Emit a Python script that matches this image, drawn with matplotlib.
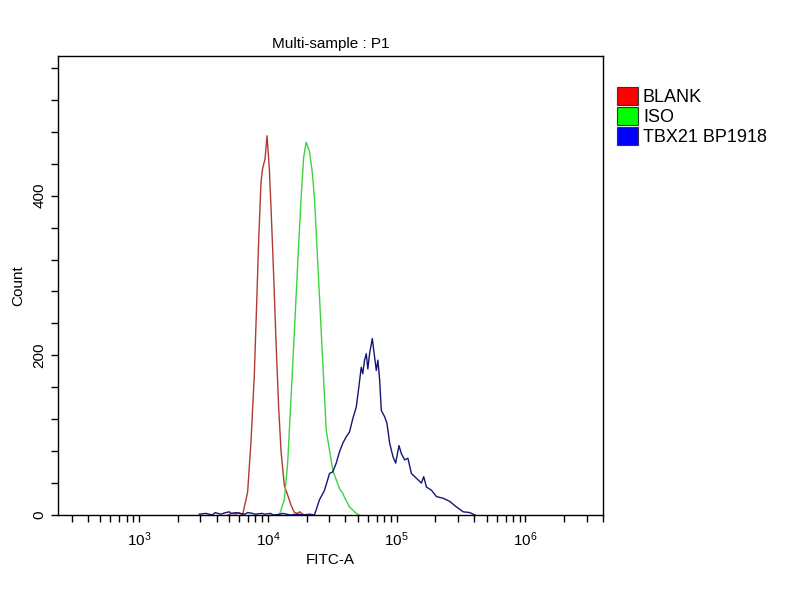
import numpy as np
import matplotlib
matplotlib.use("Agg")
import matplotlib.pyplot as plt
from matplotlib.patches import Patch
from matplotlib.ticker import MultipleLocator, LogLocator

plt.rcParams['font.family'] = ['Liberation Sans', 'DejaVu Sans']
plt.rcParams['mathtext.default'] = 'regular'

# FITC-A values and counts
blank_x = [4900, 5300, 5600, 6000, 6370, 6970, 7400, 7850, 8180, 8480, 8850, 9110,
           9510, 9860, 10270, 10590, 11100, 11580, 12140, 12670, 13430, 14250,
           15160, 16080, 16900, 17700, 18600, 19500]
blank_y = [0, 2, 1, 3, 0, 29, 92, 175, 262, 342, 417, 434,
           446, 475, 434, 384, 300, 216, 134, 79, 37, 25,
           12, 3, 2, 4, 1, 0]

iso_x = [12270, 13430, 14250, 15160, 16080, 17060, 18130, 18970, 19820, 21020,
         22060, 23000, 24420, 25950, 27540, 28390, 30120, 31940, 35990, 38200,
         39380, 43050, 47100, 49700, 51500]
iso_y = [0, 19, 65, 148, 231, 315, 398, 448, 467, 456,
         431, 398, 315, 231, 148, 106, 81, 56, 33, 27,
         22, 10, 4, 1, 0]

tbx_x = [2930, 3300, 3700, 3900, 4300, 4500, 5000, 5200, 5700, 6000, 6600, 7000,
         7600, 8000, 9000, 9500, 10500, 11000, 12500, 13000, 15000, 17000, 19000,
         21000, 23000, 25160, 27540, 30120, 31940, 33940, 35990, 38200, 40620,
         43050, 45710, 48550, 50850, 53080, 54580, 56330, 58070, 59730, 61620,
         64700, 67400, 69500, 71500, 73780, 76000, 80680, 84020, 88250, 93620,
         98260, 104200, 108700, 115300, 122300, 130100, 142300, 155600, 162200,
         170300, 186200, 203700, 229200, 258300, 291500, 328200, 369700, 404500]
tbx_y = [1, 2, 0, 3, 1, 2, 4, 2, 3, 2, 1, 3,
         2, 1, 2, 1, 2, 0, 1, 2, 0, 1, 0,
         1, 0, 19, 31, 52, 54, 65, 79, 90, 98,
         104, 121, 135, 160, 185, 177, 194, 202, 183, 202,
         221, 198, 181, 194, 169, 131, 123, 115, 90, 73,
         65, 87, 77, 69, 71, 52, 46, 40, 48,
         35, 31, 23, 21, 17, 10, 4, 3, 0]

labels = ['BLANK', 'ISO', 'TBX21 BP1918']
line_colors = ['#b03a32', '#3ed23e', '#15157a']
patch_colors = ['#ff0000', '#00ff00', '#0000ff']

fig = plt.figure(figsize=(8, 6), dpi=100)
ax = fig.add_axes([0.0725, 0.1417, 0.6813, 0.765])

ax.plot(blank_x, blank_y, color=line_colors[0], lw=1.0)
ax.plot(iso_x, iso_y, color=line_colors[1], lw=1.0)
ax.plot(tbx_x, tbx_y, color=line_colors[2], lw=1.0)

ax.set_xscale('log')
ax.set_xlim(235, 4.0e6)
ax.set_ylim(0, 575)

ax.xaxis.set_major_locator(LogLocator(base=10, numticks=10))
ax.xaxis.set_minor_locator(LogLocator(base=10, subs=np.arange(2, 10), numticks=50))
ax.yaxis.set_major_locator(MultipleLocator(200))
ax.yaxis.set_minor_locator(MultipleLocator(40))

ax.tick_params(axis='both', which='both', direction='out', length=5, width=1,
               top=False, right=False, labelsize=11)
ax.tick_params(axis='x', which='major', pad=6)
for lab in ax.get_yticklabels():
    lab.set_rotation(90)
    lab.set_va('center')
for s in ax.spines.values():
    s.set_linewidth(1.0)

ax.set_title('Multi-sample : P1', fontsize=11, pad=6)
ax.set_xlabel('FITC-A', fontsize=11, labelpad=3)
ax.set_ylabel('Count', fontsize=11, labelpad=5)

handles = [Patch(facecolor=c, edgecolor='#333333', lw=0.8) for c in patch_colors]
fig.legend(handles, labels, loc='upper left', bbox_to_anchor=(0.771, 0.855),
           frameon=False, fontsize=13, handlelength=1.15, handleheight=1.15,
           handletextpad=0.3, labelspacing=0.05, borderpad=0, borderaxespad=0)

fig.savefig('out.png', dpi=100)
